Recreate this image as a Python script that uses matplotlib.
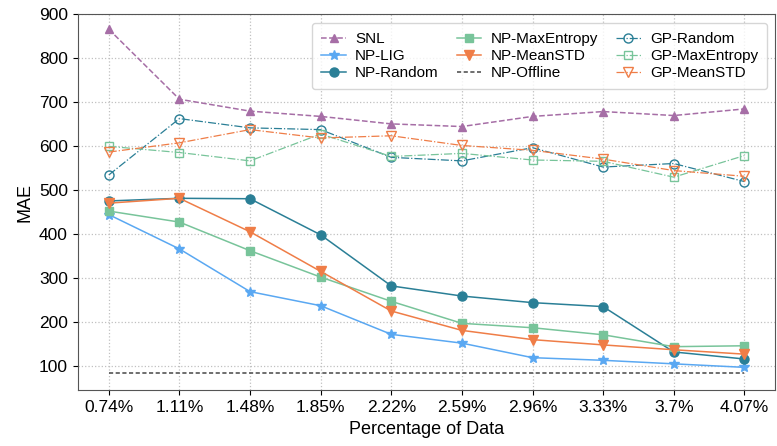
import matplotlib
matplotlib.use('Agg')
import matplotlib.pyplot as plt
import numpy as np

plt.rcParams['font.family'] = ['Liberation Sans', 'DejaVu Sans']

x_labels = ['0.74%', '1.11%', '1.48%', '1.85%', '2.22%', '2.59%', '2.96%', '3.33%', '3.7%', '4.07%']

snl        = [866, 707, 680, 668, 651, 645, 668, 679, 670, 685]
np_lig     = [445, 367, 270, 238, 173, 153, 120, 114, 106, 98]
np_random  = [476, 482, 481, 399, 283, 260, 245, 236, 133, 117]
np_maxent  = [453, 428, 363, 303, 248, 198, 188, 172, 145, 147]
np_meanstd = [471, 482, 406, 316, 226, 182, 161, 149, 138, 128]
np_offline = [86] * 10
gp_random  = [535, 663, 642, 638, 575, 567, 597, 553, 561, 520]
gp_maxent  = [600, 586, 567, 628, 577, 584, 569, 566, 530, 579]
gp_meanstd = [587, 608, 638, 619, 624, 602, 591, 571, 545, 532]

c_purple = '#a66ea6'
c_blue = '#5aa8f2'
c_teal = '#2a7f96'
c_green = '#78c49a'
c_orange = '#ef7d47'

idx = np.arange(len(x_labels))

fig, ax = plt.subplots(figsize=(7.77, 4.46), dpi=100)

ax.plot(idx, snl, '--', marker='^', color=c_purple, lw=1.1, ms=6, label='SNL')
ax.plot(idx, np_lig, '-', marker='*', color=c_blue, lw=1.1, ms=7.5, label='NP-LIG')
ax.plot(idx, np_random, '-', marker='o', color=c_teal, lw=1.1, ms=6.5, label='NP-Random')
ax.plot(idx, np_maxent, '-', marker='s', color=c_green, lw=1.1, ms=6, label='NP-MaxEntropy')
ax.plot(idx, np_meanstd, '-', marker='v', color=c_orange, lw=1.1, ms=6.5, label='NP-MeanSTD')
ax.plot(idx, np_offline, '--', color='#555555', lw=1.2, dashes=(2.5, 1.5), label='NP-Offline')
ax.plot(idx, gp_random, '-.', marker='o', mfc='none', color=c_teal, lw=0.9, ms=6.5, label='GP-Random')
ax.plot(idx, gp_maxent, '-.', marker='s', mfc='none', color=c_green, lw=0.9, ms=6, label='GP-MaxEntropy')
ax.plot(idx, gp_meanstd, '-.', marker='v', mfc='none', color=c_orange, lw=0.9, ms=6.5, label='GP-MeanSTD')

ax.set_xticks(idx)
ax.set_xticklabels(x_labels)
ax.set_ylim(46, 900)
ax.set_xlim(-0.44, 9.44)
ax.tick_params(labelsize=12.5)
ax.set_xlabel('Percentage of Data', fontsize=13)
ax.set_ylabel('MAE', fontsize=13)
ax.grid(True, linestyle=':', color='#c0c0c0', lw=0.9)
for s in ax.spines.values():
    s.set_color('#555555')

ax.legend(loc='upper right', ncol=3, fontsize=11, handlelength=1.6, handletextpad=0.6,
          columnspacing=1.2, labelspacing=0.2, borderpad=0.6, fancybox=True,
          bbox_to_anchor=(0.999, 0.997))

plt.subplots_adjust(left=0.1, right=0.998, top=0.968, bottom=0.125)
plt.savefig('out.png')
